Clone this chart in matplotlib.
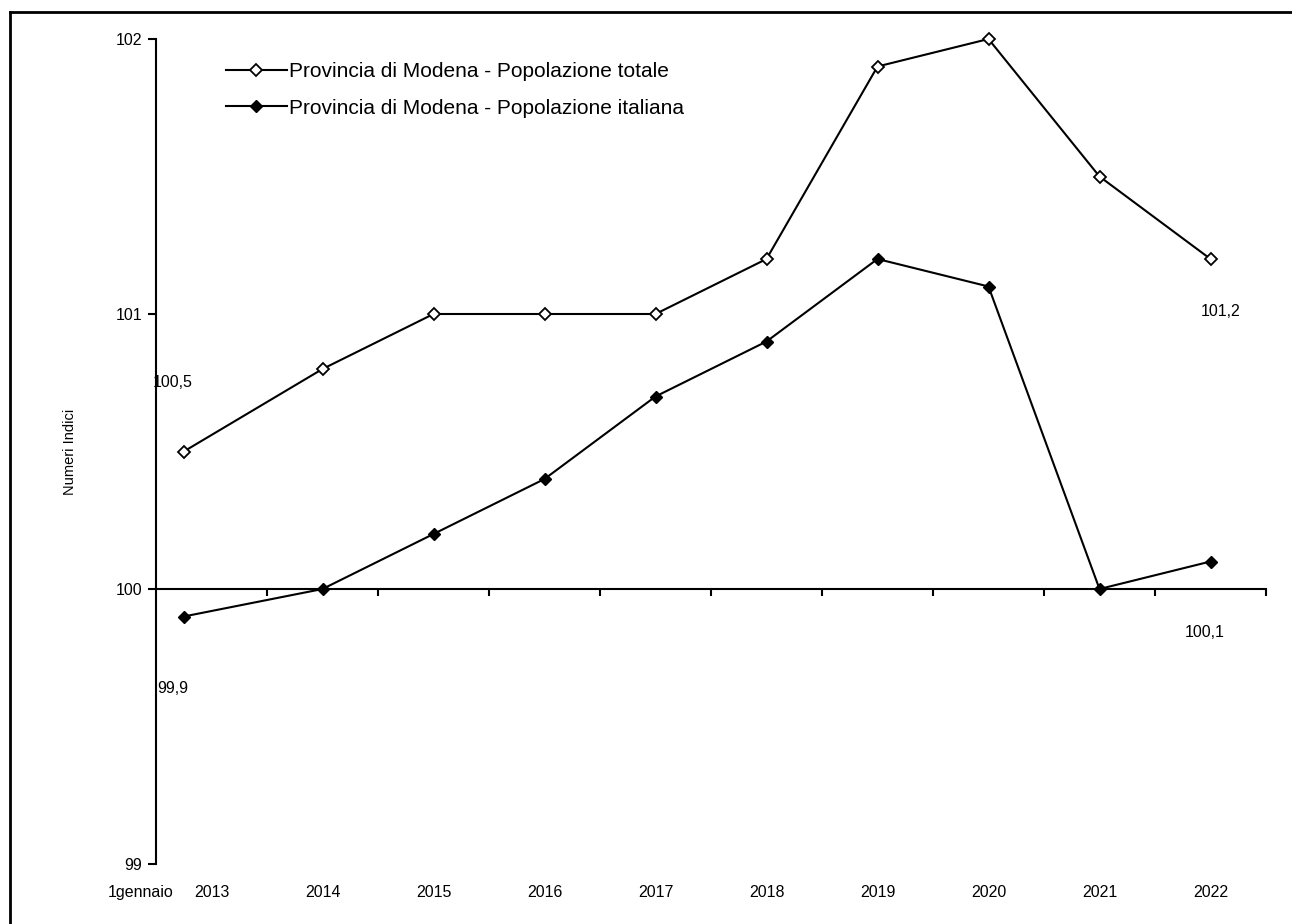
import matplotlib
matplotlib.use("Agg")
from matplotlib import pyplot as plt
from matplotlib.lines import Line2D

plt.rcParams["font.family"] = ["Liberation Sans", "DejaVu Sans"]

years = ["2013", "2014", "2015", "2016", "2017", "2018", "2019", "2020", "2021", "2022"]
totale = [100.5, 100.8, 101.0, 101.0, 101.0, 101.2, 101.9, 102.0, 101.5, 101.2]
italiana = [99.9, 100.0, 100.2, 100.4, 100.7, 100.9, 101.2, 101.1, 100.0, 100.1]
y_ticks = [99, 100, 101, 102]
lbl_totale = "Provincia di Modena - Popolazione totale"
lbl_italiana = "Provincia di Modena - Popolazione italiana"

# the first point sits a bit left of its category in the original
x = [i for i in range(len(years))]
x[0] = -0.25

fig = plt.figure(figsize=(12.92, 9.24), dpi=100)
ax = fig.add_axes([156 / 1292, 60 / 924, 1110 / 1292, 825 / 924])

ax.plot(x, totale, color="black", lw=1.5, marker="D", ms=6.4,
        mfc="white", mec="black", mew=1.3, label=lbl_totale, clip_on=False)
ax.plot(x, italiana, color="black", lw=1.5, marker="D", ms=6.4,
        mfc="black", mec="black", label=lbl_italiana, clip_on=False)

ax.set_xlim(-0.5, 9.5)
ax.set_ylim(99, 102)

for s in ["top", "right"]:
    ax.spines[s].set_visible(False)
ax.spines["bottom"].set_position(("data", 100))
ax.spines["left"].set_linewidth(1.5)
ax.spines["bottom"].set_linewidth(1.5)

ax.set_xticks([i + 0.5 for i in range(len(years))])
ax.set_xticklabels([])
ax.tick_params(axis="x", direction="out", length=5, width=1.5)
ax.set_yticks(y_ticks)
ax.set_yticklabels([str(v) for v in y_ticks])
ax.tick_params(axis="y", direction="out", length=6, width=1.5, labelsize=11.5, pad=4)

tr = ax.get_xaxis_transform()
for i, yr in enumerate(years):
    ax.text(i, -0.034, yr, transform=tr, ha="center", va="center", fontsize=11.5)
ax.text(-0.64, -0.034, "1gennaio", transform=tr, ha="center", va="center", fontsize=11.5)

ax.set_ylabel("Numeri Indici", fontsize=10.5, labelpad=28)

# value labels at first and last year
ax.annotate("100,5", (x[0], totale[0]), xytext=(-11, 69), textcoords="offset pixels",
            ha="center", va="center", fontsize=11.5)
ax.annotate("99,9", (x[0], italiana[0]), xytext=(-11, -72), textcoords="offset pixels",
            ha="center", va="center", fontsize=11.5)
ax.annotate("101,2", (x[-1], totale[-1]), xytext=(10, -52), textcoords="offset pixels",
            ha="center", va="center", fontsize=11.5)
ax.annotate("100,1", (x[-1], italiana[-1]), xytext=(-6, -71), textcoords="offset pixels",
            ha="center", va="center", fontsize=11.5)

ax.legend(loc="upper left", bbox_to_anchor=(0.05, 0.99), frameon=False, fontsize=15,
          handlelength=2.9, handletextpad=0.1, labelspacing=0.85, borderaxespad=0.3)

# outer frame (top and left edges visible in the original)
fig.add_artist(Line2D([10 / 1292, 10 / 1292], [0, 1 - 12 / 924], color="black", lw=2))
fig.add_artist(Line2D([10 / 1292, 1], [1 - 12 / 924, 1 - 12 / 924], color="black", lw=2))

fig.savefig("out.png", dpi=100)
